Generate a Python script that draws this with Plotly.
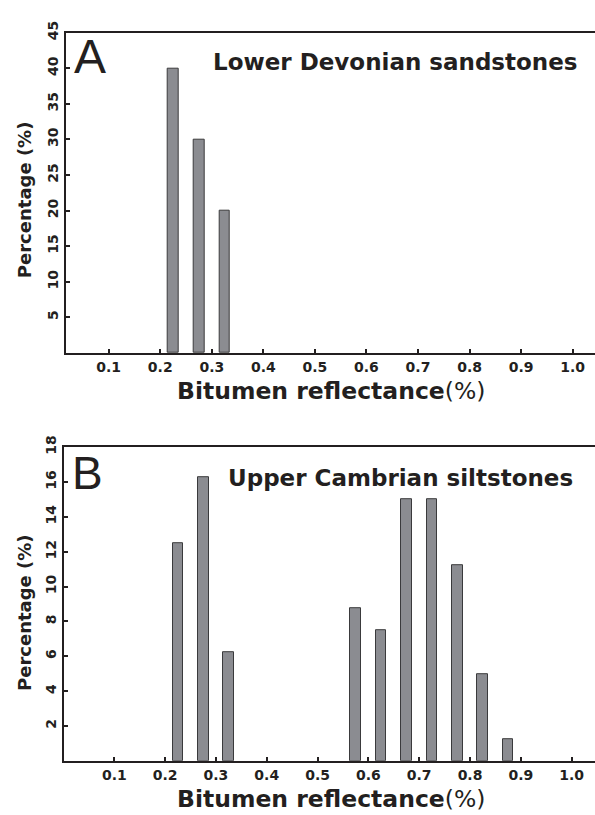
import plotly.graph_objects as go

# ---- data ----
x_ticks = [0.1, 0.2, 0.3, 0.4, 0.5, 0.6, 0.7, 0.8, 0.9, 1.0]
x_tick_labels = ["0.1", "0.2", "0.3", "0.4", "0.5", "0.6", "0.7", "0.8", "0.9", "1.0"]

a_x = [0.225, 0.275, 0.325]
a_pct = [40, 30, 20]
a_y_ticks = [5, 10, 15, 20, 25, 30, 35, 40, 45]

b_x = [0.225, 0.275, 0.325, 0.575, 0.625, 0.675, 0.725, 0.775, 0.825, 0.875]
b_pct = [12.5, 16.25, 6.25, 8.75, 7.5, 15, 15, 11.25, 5, 1.25]
b_y_ticks = [2, 4, 6, 8, 10, 12, 14, 16, 18]

a_label = "A"
b_label = "B"
a_title = "Lower Devonian sandstones"
b_title = "Upper Cambrian siltstones"
x_title = "<b>Bitumen reflectance</b>(%)"
y_title = "<b>Percentage (%)</b>"

# ---- styling ----
W, H = 595, 815
INK = "#231f20"
BAR_FILL = "#8b8c91"
BAR_LINE = "#3a3a3c"
FONT = "DejaVu Sans"


def fx(p):
    return p / W


def fy(p):
    return 1 - p / H


fig = go.Figure()
fig.add_trace(go.Bar(x=a_x, y=a_pct, width=0.021, xaxis="x", yaxis="y",
                     marker=dict(color=BAR_FILL, line=dict(color=BAR_LINE, width=1)),
                     showlegend=False))
fig.add_trace(go.Bar(x=b_x, y=b_pct, width=0.021, xaxis="x2", yaxis="y2",
                     marker=dict(color=BAR_FILL, line=dict(color=BAR_LINE, width=1)),
                     showlegend=False))

common_x = dict(tickmode="array", tickvals=x_ticks, ticktext=x_tick_labels,
                ticks="inside", ticklen=4, tickwidth=2, tickcolor=INK,
                showline=True, linecolor=INK, linewidth=2, mirror=True,
                showgrid=False, zeroline=False, ticklabelstandoff=0,
                tickfont=dict(family=FONT, size=14, color=INK, weight="bold"))
common_y = dict(tickmode="array", ticks="inside", ticklen=4, tickwidth=2, tickcolor=INK,
                showline=True, linecolor=INK, linewidth=2, mirror=False,
                showgrid=False, zeroline=False, tickangle=-90, ticklabelstandoff=0,
                tickfont=dict(family=FONT, size=14, color=INK, weight="bold"))

fig.update_layout(
    width=W, height=H, margin=dict(l=0, r=0, t=0, b=0),
    paper_bgcolor="white", plot_bgcolor="white",
    bargap=0,
    xaxis=dict(domain=[fx(65.7), 1], range=[0.0166, 1.0433], anchor="y", **common_x),
    yaxis=dict(domain=[fy(346), fy(21)], range=[0, 45], anchor="x",
               tickvals=a_y_ticks, ticktext=[str(v) for v in a_y_ticks], **common_y),
    xaxis2=dict(domain=[fx(64), 1], range=[0.001, 1.0459], anchor="y2", **common_x),
    yaxis2=dict(domain=[fy(760), fy(441.7)], range=[0, 18], anchor="x2",
                tickvals=b_y_ticks, ticktext=[str(v) for v in b_y_ticks], **common_y),
)

ann = []
ann.append(dict(text=a_label, x=fx(90), y=fy(45), font=dict(family="Liberation Sans", size=48, color=INK)))
ann.append(dict(text=b_label, x=fx(87), y=fy(468), font=dict(family="Liberation Sans", size=46, color=INK)))
ann.append(dict(text="<b>" + a_title + "</b>", x=fx(395), y=fy(51), font=dict(family=FONT, size=23, color=INK)))
ann.append(dict(text="<b>" + b_title + "</b>", x=fx(400), y=fy(473), font=dict(family=FONT, size=23, color=INK)))
ann.append(dict(text=x_title, x=fx(331), y=fy(385), font=dict(family=FONT, size=23.5, color=INK)))
ann.append(dict(text=x_title, x=fx(331), y=fy(799), font=dict(family=FONT, size=23.5, color=INK)))
ann.append(dict(text=y_title, x=fx(24), y=fy(191), textangle=-90, font=dict(family=FONT, size=18, color=INK)))
ann.append(dict(text=y_title, x=fx(24), y=fy(610), textangle=-90, font=dict(family=FONT, size=18, color=INK)))

for a in ann:
    a.update(xref="paper", yref="paper", showarrow=False, xanchor="center", yanchor="middle")
fig.update_layout(annotations=ann)

fig.write_html("out.html")
